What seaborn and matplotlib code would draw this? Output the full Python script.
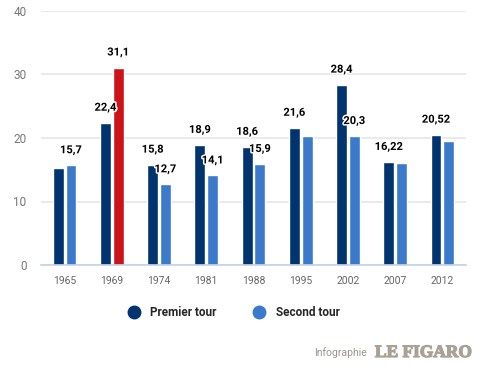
import matplotlib
matplotlib.use("Agg")
import matplotlib.patheffects as pe
import matplotlib.pyplot as plt
import numpy as np
import pandas as pd
import seaborn as sns
from matplotlib.font_manager import FontProperties
from matplotlib.lines import Line2D

years = ["1965", "1969", "1974", "1981", "1988", "1995", "2002", "2007", "2012"]
premier_tour = [15.2, 22.4, 15.8, 18.9, 18.6, 21.6, 28.4, 16.22, 20.52]
second_tour = [15.7, 31.1, 12.7, 14.1, 15.9, 20.3, 20.3, 16.0, 19.6]
# which bars carry a value label
premier_labels = [None, "22,4", "15,8", "18,9", "18,6", "21,6", "28,4", "16,22", "20,52"]
second_labels = ["15,7", "31,1", "12,7", "14,1", "15,9", None, "20,3", None, None]

dark_blue = "#00346e"
light_blue = "#3b7acb"
red = "#cc1418"

df = pd.DataFrame({
    "year": years * 2,
    "value": premier_tour + second_tour,
    "tour": ["Premier tour"] * len(years) + ["Second tour"] * len(years),
})

sns.set_style("white")
plt.rcParams["font.family"] = ["Roboto", "DejaVu Sans"]

fig = plt.figure(figsize=(4.96, 3.74), dpi=100)
ax = fig.add_axes([41 / 496, 1 - 265 / 374, 425 / 496, 254 / 374])

sns.barplot(
    data=df, x="year", y="value", hue="tour",
    palette=[dark_blue, light_blue], width=0.54, gap=0.14,
    legend=False, ax=ax, saturation=1,
)

# 1969 second round highlighted in red
for bar, yr in zip(ax.containers[1], years):
    if yr == "1969":
        bar.set_facecolor(red)

halo = [pe.withStroke(linewidth=2.2, foreground="white")]
for cont, labels in zip(ax.containers, [premier_labels, second_labels]):
    for bar, lab in zip(cont, labels):
        if lab is None:
            continue
        ax.annotate(
            lab, (bar.get_x() + bar.get_width() / 2, bar.get_height()),
            xytext=(0, 7), textcoords="offset points", ha="center", va="bottom",
            fontsize=8, fontweight="bold", color="black", path_effects=halo,
        )

ax.set_ylim(0, 40)
ax.set_xlim(-0.5, len(years) - 0.5)
ax.set_yticks([0, 10, 20, 30, 40])
ax.yaxis.grid(True, color="#e6e6e6", linewidth=1.2)
ax.set_axisbelow(True)
ax.set_xlabel("")
ax.set_ylabel("")
for s in ["top", "right", "left"]:
    ax.spines[s].set_visible(False)
ax.spines["bottom"].set_color("#c3d1e6")
ax.spines["bottom"].set_linewidth(1.2)
ax.tick_params(axis="y", length=0, pad=10.5, labelsize=8.5, labelcolor="#777777")
ax.tick_params(axis="x", which="major", length=0, pad=8, labelsize=7.5, labelcolor="#666666")
ax.set_xticks(np.arange(-0.5, len(years)), minor=True)
ax.tick_params(axis="x", which="minor", length=8, color="#c3d1e6", width=1.2)

handles = [
    Line2D([], [], marker="o", linestyle="", markersize=9, color=dark_blue),
    Line2D([], [], marker="o", linestyle="", markersize=9, color=light_blue),
]
leg = fig.legend(
    handles, ["Premier tour", "Second tour"], loc="center",
    bbox_to_anchor=(0.465, 1 - 313 / 374), ncol=2, frameon=False,
    prop={"weight": "bold", "size": 8.5}, handletextpad=0.4, columnspacing=2.6,
)

fig.text(367 / 496, 1 - 353 / 374, "Infographie", ha="right", va="center",
         fontsize=7.5, color="#9a948d")
figaro_font = FontProperties(family="Liberation Serif", weight="bold", size=12.5)
fig.text(375 / 496, 1 - 353 / 374, "LE FIGARO", ha="left", va="center",
         fontproperties=figaro_font, color="#a9a196",
         path_effects=[pe.withStroke(linewidth=0.9, foreground="#a9a196")])

fig.savefig("out.png", dpi=100)
